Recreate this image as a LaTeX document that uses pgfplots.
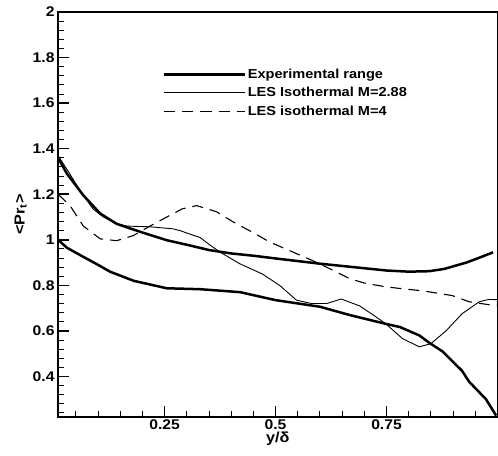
\documentclass[border=0pt]{standalone}
\usepackage{fontspec}
\setmainfont{Liberation Sans}
\newfontfamily\wide[FakeStretch=1.12]{Liberation Sans}
\usepackage{pgfplots}
\pgfplotsset{compat=1.18}
\begin{document}
\begin{tikzpicture}
\begin{axis}[name=ax, scale only axis, width=439pt, height=405pt,
  xmin=0.01, xmax=1, ymin=0.22, ymax=2,
  xtick={0.25,0.5,0.75}, xticklabels={0.25,0.5,0.75},
  ytick={0.4,0.6,0.8,1,1.2,1.4,1.6,1.8,2},
  yticklabels={0.4,0.6,0.8,1,1.2,1.4,1.6,1.8,2},
  minor xtick={0.05,0.1,...,0.95},
  minor ytick={0.24,0.28,...,1.97},
  tick align=inside, tick pos=left,
  major tick length=11pt, minor tick length=6pt,
  major tick style={black, line width=1.6pt},
  minor tick style={black, line width=0.9pt},
  axis line style={line width=2pt},
  tick label style={font=\wide\bfseries\fontsize{14}{16}\selectfont},
  xticklabel style={yshift=1pt},
  label style={font=\wide\bfseries\fontsize{14.5}{16}\selectfont},
  /pgf/number format/assume math mode=true,
  xlabel={y/δ}, ylabel={<Pr\textsubscript{t}>},
  xlabel style={yshift=2pt, inner sep=1pt}, ylabel style={yshift=-1pt},
  legend style={draw=none, fill=none, at={(rel axis cs:0.232,0.87)}, anchor=north west,
    font=\wide\bfseries\fontsize{13}{15}\selectfont, row sep=3.5pt},
  legend cell align=left,
  legend image code/.code={\draw[#1] (0pt,0pt) -- (70pt,0pt); \path (0pt,0pt) -- (80pt,0pt);},
]
\addplot[black, line width=2.5pt] coordinates {
(0.01,1.36) (0.03,1.29) (0.067,1.195) (0.105,1.115) (0.142,1.07) (0.195,1.035) (0.255,0.998) (0.307,0.975) (0.35,0.955) (0.4,0.94) (0.45,0.93) (0.5,0.918) (0.6,0.895) (0.65,0.885) (0.7,0.875) (0.75,0.865) (0.8,0.86) (0.846,0.862) (0.88,0.872) (0.93,0.9) (0.96,0.922) (0.99,0.945)
};
\addlegendentry{Experimental range}
\addplot[black, line width=0.9pt] coordinates {
(0.01,1.37) (0.033,1.30) (0.06,1.215) (0.089,1.135) (0.112,1.10) (0.142,1.07) (0.165,1.06) (0.217,1.057) (0.269,1.048) (0.285,1.04) (0.307,1.025) (0.33,1.01) (0.35,0.98) (0.374,0.947) (0.419,0.895) (0.47,0.85) (0.509,0.8) (0.547,0.735) (0.581,0.72) (0.615,0.72) (0.648,0.74) (0.689,0.71) (0.72,0.67) (0.749,0.63) (0.786,0.566) (0.824,0.53) (0.85,0.544) (0.884,0.6) (0.92,0.675) (0.959,0.728) (0.98,0.738) (1.0,0.737)
};
\addlegendentry{LES Isothermal M=2.88}
\addplot[black, line width=1.1pt, dash pattern=on 11pt off 7pt] coordinates {
(0.01,1.2) (0.037,1.15) (0.067,1.06) (0.105,1.004) (0.142,0.996) (0.179,1.018) (0.217,1.06) (0.255,1.1) (0.29,1.136) (0.322,1.15) (0.367,1.123) (0.404,1.079) (0.446,1.035) (0.487,0.99) (0.532,0.952) (0.584,0.908) (0.622,0.873) (0.666,0.83) (0.7,0.81) (0.749,0.793) (0.8,0.782) (0.831,0.776) (0.898,0.755) (0.936,0.728) (0.98,0.715) (1.0,0.713)
};
\addlegendentry{LES isothermal M=4}
\addplot[black, line width=2.5pt, forget plot] coordinates {
(0.01,1.0) (0.03,0.965) (0.067,0.925) (0.1,0.89) (0.127,0.86) (0.18,0.82) (0.255,0.787) (0.33,0.783) (0.42,0.77) (0.5,0.735) (0.6,0.706) (0.666,0.67) (0.75,0.63) (0.78,0.617) (0.824,0.58) (0.846,0.548) (0.876,0.51) (0.92,0.425) (0.936,0.377) (0.974,0.30) (0.997,0.228)
};
\end{axis}
\pgfresetboundingbox
\path ([shift={(-58pt,-38pt)}]ax.south west) rectangle ([shift={(0.5pt,12pt)}]ax.north east);
\end{tikzpicture}
\end{document}
